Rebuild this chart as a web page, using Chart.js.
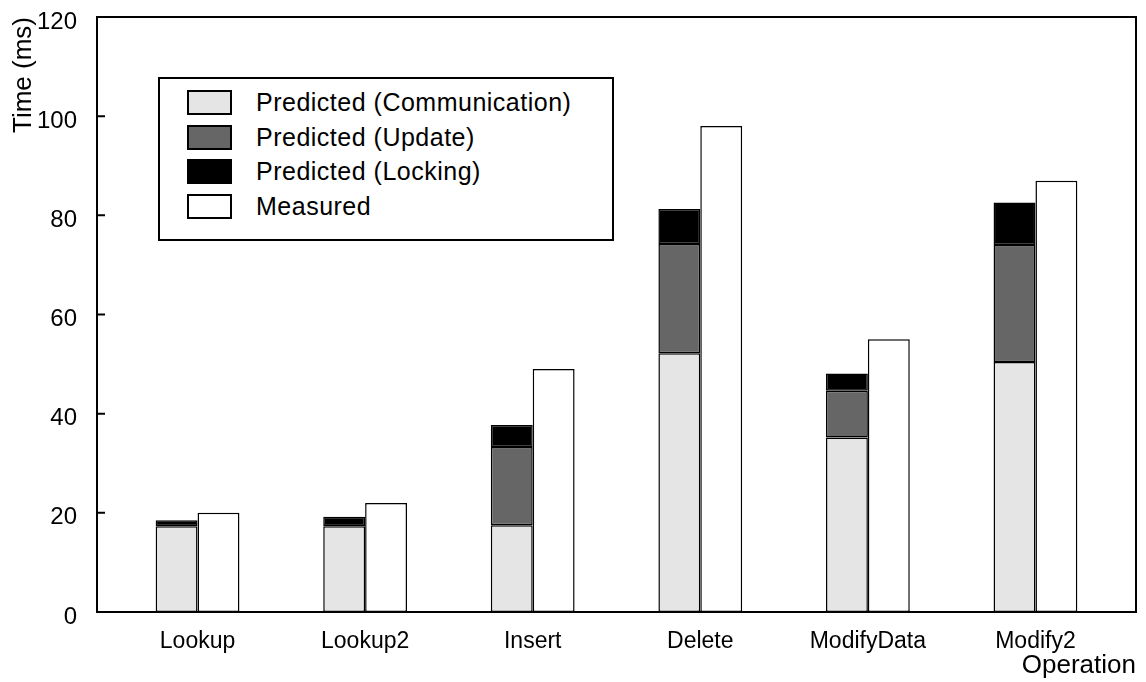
<!DOCTYPE html>
<html>
<head>
<meta charset="utf-8">
<script src="https://cdn.jsdelivr.net/npm/chart.js@4/dist/chart.umd.min.js"></script>
<style>
    body { margin: 0; background: #fff; }
    #wrap { position: relative; width: 1146px; height: 682px; }
    #legend {
        position: absolute; left: 158px; top: 77px; width: 425px; height: 154px;
        border: 2px solid #000; background: #fff; padding: 6px 0 0 27px; box-sizing: content-box;
        font-family: 'Liberation Sans', Arial, sans-serif; font-size: 25px; letter-spacing: 0.5px; color: #000;
    }
    .row { display: flex; align-items: center; height: 34.7px; }
    .sw { width: 41px; height: 21px; border: 2px solid #000; margin-right: 24px; }
</style>
</head>
<body>
<div id="wrap">
    <canvas id="chart" width="1146" height="682"></canvas>
    <div id="legend"></div>
</div>
<script>
// Chart data
const operations = ['Lookup', 'Lookup2', 'Insert', 'Delete', 'ModifyData', 'Modify2'];
const communication = [17.3, 17.3, 17.5, 52.2, 35.2, 50.4];
const update = [0, 0, 15.8, 22.0, 9.4, 23.6];
const locking = [1.2, 1.9, 4.4, 7.1, 3.5, 8.6];
const measured = [20, 22, 49, 98, 55, 87];
const yTicks = [0, 20, 40, 60, 80, 100, 120];

const FONT = "'Liberation Sans', Arial, sans-serif";

function barSet(label, values, color, stack) {
    return {
        label: label,
        data: values,
        backgroundColor: color,
        borderColor: '#000',
        borderWidth: 1.5,
        borderSkipped: false,
        categoryPercentage: 0.5,
        barPercentage: 1,
        stack: stack
    };
}

// frame round the plot area and inward y ticks
const framePlugin = {
    id: 'frame',
    afterDraw(chart) {
        const { ctx, chartArea } = chart;
        const y = chart.scales.y;
        ctx.save();
        ctx.strokeStyle = '#000';
        ctx.lineWidth = 2;
        ctx.strokeRect(chartArea.left, chartArea.top, chartArea.right - chartArea.left, chartArea.bottom - chartArea.top);
        ctx.beginPath();
        y.ticks.forEach(t => {
            const py = y.getPixelForValue(t.value);
            ctx.moveTo(chartArea.left, py);
            ctx.lineTo(chartArea.left + 8, py);
        });
        ctx.stroke();
        ctx.restore();
    }
};

const chart = new Chart(document.getElementById('chart'), {
    type: 'bar',
    data: {
        labels: operations,
        datasets: [
            barSet('Predicted (Communication)', communication, '#e5e5e5', 'pred'),
            barSet('Predicted (Update)', update, '#666666', 'pred'),
            barSet('Predicted (Locking)', locking, '#000000', 'pred'),
            barSet('Measured', measured, '#ffffff', 'meas')
        ]
    },
    options: {
        responsive: false,
        animation: false,
        layout: { padding: { left: 0, top: 17, right: 10, bottom: 0 } },
        plugins: {
            legend: { display: false },
            tooltip: { enabled: false }
        },
        scales: {
            x: {
                grid: { display: false },
                border: { display: false },
                afterFit: s => { s.height = 70; s.paddingLeft = 0; s.paddingRight = 0; },
                // a bit more room at both ends than the default half category
                afterBuildTicks: s => { s._startValue = -0.6; s._valueRange = operations.length - 1 + 1.2; },
                ticks: {
                    padding: 8,
                    maxRotation: 0,
                    color: '#000',
                    font: { family: FONT, size: 23 }
                },
                title: {
                    display: true,
                    text: 'Operation',
                    align: 'end',
                    color: '#000',
                    font: { family: FONT, size: 26 },
                    padding: { top: 0, bottom: 1 }
                }
            },
            y: {
                min: 0,
                max: 120,
                stacked: true,
                grid: { display: false },
                border: { display: false },
                afterFit: s => { s.width = 97; s.paddingTop = 0; s.paddingBottom = 0; },
                afterBuildTicks: s => { s.ticks = yTicks.map(v => ({ value: v })); },
                ticks: {
                    padding: 12,
                    labelOffset: 5,
                    color: '#000',
                    font: { family: FONT, size: 24 }
                },
                title: {
                    display: true,
                    text: 'Time (ms)',
                    align: 'end',
                    color: '#000',
                    font: { family: FONT, size: 26 },
                    padding: { top: 8, bottom: 0 }
                }
            }
        }
    },
    plugins: [framePlugin]
});

// HTML legend built from the datasets
document.getElementById('legend').innerHTML = chart.data.datasets.map(ds => `
    <div class="row"><div class="sw" style="background:${ds.backgroundColor}"></div><span>${ds.label}</span></div>
`).join('');
</script>
</body>
</html>
